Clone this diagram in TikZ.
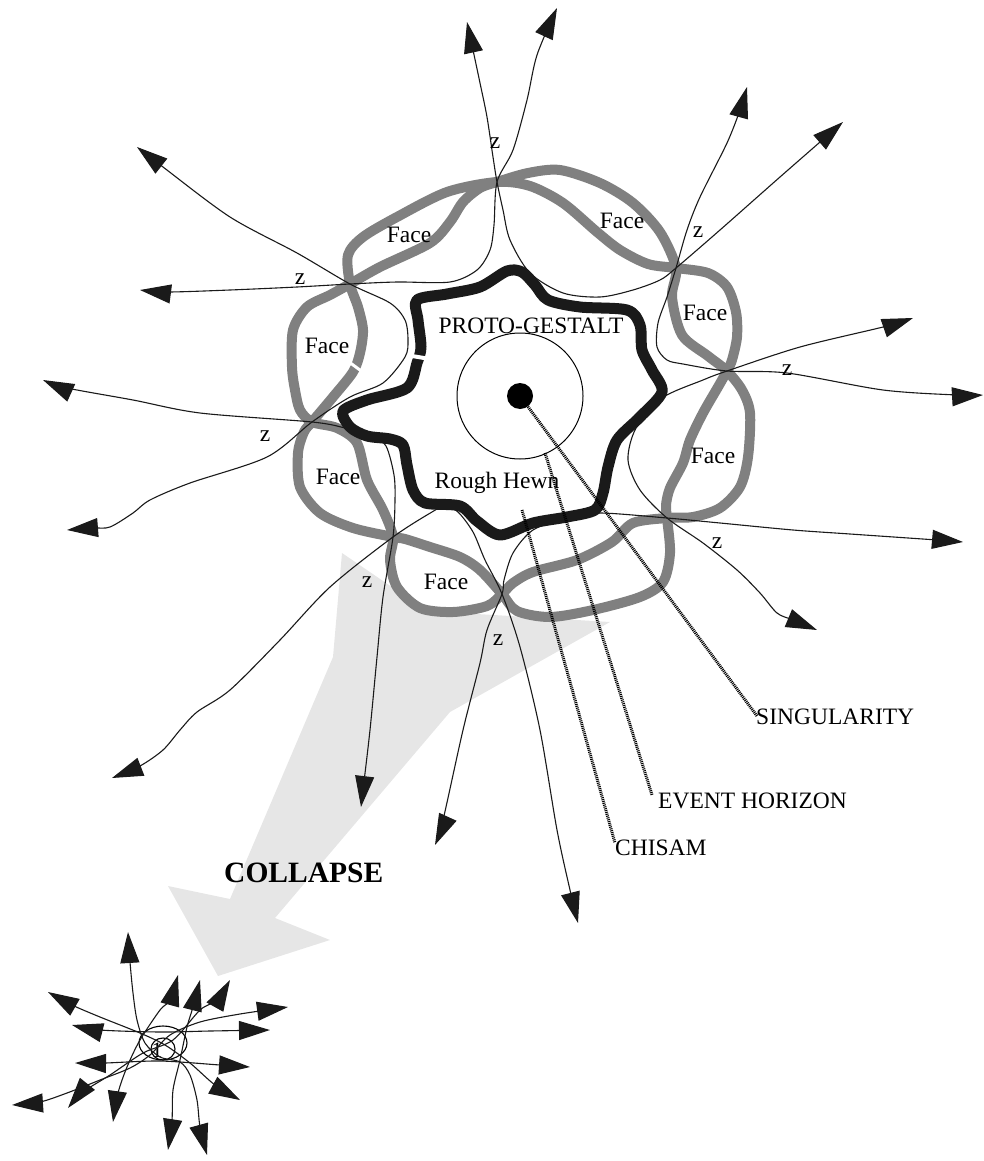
\documentclass[tikz,border=0pt]{standalone}
\usepackage{fontspec}
\setmainfont{Liberation Serif}
\usetikzlibrary{arrows.meta}
\definecolor{facegray}{HTML}{808080}
\definecolor{hewnblack}{HTML}{1A1A1A}
\definecolor{collapsegray}{HTML}{E6E6E6}

\begin{document}
\begin{tikzpicture}[
    x=1pt, y=-1pt,
    >={Triangle[length=31pt,width=19pt]},
    lbl/.style={font=\fontsize{23.5}{26}\selectfont, inner sep=0pt, anchor=base},
    facestrand/.style={draw=facegray, line width=10pt, line join=round},
    roughring/.style={draw=hewnblack, line width=11pt, line join=round},
    zline/.style={draw=hewnblack, line width=1.1pt, <->},
    pointer/.style={draw=black, line width=3pt, dash pattern=on 1pt off 0.9pt},
]
\path[use as bounding box] (0,0) rectangle (983,1161);

% collapse arrow
\fill[collapsegray] (342,553) -- (427,611) -- (610,622) -- (450,712) -- (275,918) -- (330,940)
    -- (218,976) -- (168,886) -- (230,899) -- (333,657) -- cycle;

% the two strands of faces
\draw[facestrand] plot[smooth cycle] coordinates {(350,284) (348,255) (363,237) (397,217) (447,192)
    (497,182) (530,186) (563,203) (597,232) (620,250) (648,264) (676,268) (708,273) (727,287)
    (736,312) (737,337) (732,360) (727,371) (718,387) (703,413) (690,440) (683,463) (670,488)
    (666,505) (667,518) (670,553) (663,582) (640,597) (593,610) (550,617) (517,611) (502,594)
    (480,570) (460,557) (430,547) (405,539) (393,537) (353,528) (320,513) (300,487) (298,453)
    (304,432) (312,422) (333,397) (353,372) (360,353) (363,330) (358,307)};
\draw[facestrand] plot[smooth cycle] coordinates {(350,284) (380,267) (430,243) (450,222) (463,202)
    (480,188) (497,182) (528,173) (560,170) (600,183) (633,203) (660,232) (676,268) (672,297)
    (682,335) (708,356) (727,371) (742,390) (750,413) (748,457) (740,487) (720,508) (693,517)
    (667,518) (633,523) (612,542) (577,560) (533,572) (513,583) (502,594) (487,606) (453,612)
    (420,608) (397,587) (390,560) (393,537) (383,510) (367,480) (357,443) (337,428) (312,422)
    (300,410) (295,390) (292,367) (293,330) (307,307) (330,295)};
\draw[white, line width=3pt] (345,359) -- (364,373);

% rough hewn ring
\draw[roughring] plot[smooth cycle] coordinates {(417,300) (447,294) (480,287) (507,271) (522,272)
    (535,285) (548,300) (580,307) (627,310) (640,325) (642,350) (652,370) (662,392) (640,417)
    (617,440) (608,467) (603,493) (595,510) (567,517) (533,523) (500,535) (477,521) (460,506)
    (425,503) (413,490) (407,465) (403,445) (390,439) (367,436) (350,427) (343,411) (367,400)
    (407,388) (417,363) (421,347) (418,320)};
\draw[white, line width=4pt] (406,355) -- (430,359);

% event horizon and singularity
\node[draw, circle, line width=1pt, minimum size=126pt, inner sep=0pt] (horizon) at (520,396) {};
\node[fill=black, circle, minimum size=26pt, inner sep=0pt] (singular) at (520,396) {};

% z lines
\draw[zline] plot[smooth] coordinates {(137,147) (163,167) (230,217) (297,253) (350,284) (390,303)
    (405,320) (408,340) (405,357) (383,383) (350,397) (312,422) (267,457) (190,483) (150,500)
    (133,513) (110,527) (93,528) (67,530)};
\draw[zline] plot[smooth] coordinates {(140,290) (168,292) (230,290) (297,287) (350,284) (397,282)
    (450,282) (477,270) (490,250) (494,225) (497,182) (513,150) (527,100) (537,55) (557,8)};
\draw[zline] plot[smooth] coordinates {(467,22) (473,50) (480,83) (487,117) (493,157) (497,182)
    (503,210) (510,240) (530,273) (563,293) (600,297) (633,290) (660,280) (676,268) (720,230)
    (780,177) (843,122)};
\draw[zline] plot[smooth] coordinates {(747,87) (740,110) (727,143) (700,197) (687,230) (676,268)
    (667,297) (658,323) (657,347) (667,360) (683,364) (727,371) (787,373) (883,390) (957,395)
    (983,395)};
\draw[zline] plot[smooth] coordinates {(913,318) (883,327) (800,347) (727,371) (703,380) (662,398)
    (636,428) (628,460) (640,490) (667,518) (703,543) (737,570) (760,593) (777,613) (793,620)
    (817,630)};
\draw[zline] plot[smooth] coordinates {(963,542) (937,540) (850,534) (793,530) (720,523) (667,518)
    (600,513) (567,518) (533,530) (513,553) (504,580) (502,594) (487,630) (480,663) (463,730)
    (443,820) (435,845)};
\draw[zline] plot[smooth] coordinates {(578,923) (570,890) (557,830) (540,730) (520,647) (502,594)
    (485,560) (473,532) (458,512) (445,506) (432,512) (393,537) (330,587) (280,640) (230,690)
    (197,712) (180,730) (163,750) (140,766) (112,778)};
\draw[zline] plot[smooth] coordinates {(43,380) (67,388) (133,400) (200,413) (312,422) (345,428)
    (372,436) (386,446) (394,475) (395,500) (393,537) (383,597) (377,657) (370,730) (363,790)
    (361,807)};

% pointers
\draw[pointer] (singular.center) -- (757,716);
\draw[pointer] (545,453) -- (652,795);
\draw[pointer] (522,510) -- (615,843);

% labels
\node[lbl] (proto) at (531,333) {PROTO-GESTALT};
\node[lbl] (hewn) at (497,488) {Rough Hewn};
\node[lbl] (face1) at (409,242) {Face};
\node[lbl] (face2) at (622,228) {Face};
\node[lbl] (face3) at (705,320) {Face};
\node[lbl] (face4) at (713,463) {Face};
\node[lbl] (face6) at (446,589) {Face};
\node[lbl] (face7) at (338,484) {Face};
\node[lbl] (face8) at (327,353) {Face};
\node[lbl] (z1) at (495,149) {z};
\node[lbl] (z2) at (698,237) {z};
\node[lbl] (z3) at (787,375) {z};
\node[lbl] (z4) at (717,548) {z};
\node[lbl] (z5) at (498,645) {z};
\node[lbl] (z6) at (367,587) {z};
\node[lbl] (z7) at (265,441) {z};
\node[lbl] (z8) at (300,284) {z};
\node[lbl, anchor=base west] (singlbl) at (756,724) {SINGULARITY};
\node[lbl, anchor=base west] (horlbl) at (658,808) {EVENT HORIZON};
\node[lbl, anchor=base west] (chislbl) at (615,855) {CHISAM};
\node[lbl, anchor=base west, font=\fontsize{29.5}{32}\selectfont\bfseries] (collapse) at (224,882) {COLLAPSE};

% collapsed star
\draw[line width=1.1pt] (163,1043) ellipse [x radius=24, y radius=17];
\draw[line width=1.1pt] (163,1049) ellipse [x radius=12, y radius=11];
\node[lbl, font=\fontsize{22}{24}\selectfont] (one) at (157,1057) {1};
\draw[zline] plot[smooth] coordinates {(48,992) (72,1005) (100,1017) (140,1033) (165,1045) (190,1063)
    (215,1085) (240,1100)};
\draw[zline] plot[smooth] coordinates {(72,1025) (100,1030) (160,1032) (210,1031) (270,1030)};
\draw[zline] plot[smooth] coordinates {(75,1063) (105,1063) (160,1061) (220,1065) (250,1067)};
\draw[zline] plot[smooth] coordinates {(12,1105) (40,1102) (67,1093) (100,1080) (130,1068) (150,1055)
    (170,1035) (200,1022) (240,1014) (288,1007)};
\draw[zline] plot[smooth] coordinates {(68,1108) (83,1092) (110,1075) (143,1053) (173,1040) (200,1010)
    (217,1000) (230,980)};
\draw[zline] plot[smooth] coordinates {(113,1122) (118,1093) (127,1067) (140,1040) (160,1010)
    (170,1000) (178,975)};
\draw[zline] plot[smooth] coordinates {(168,1150) (172,1120) (173,1090) (180,1060) (187,1027)
    (193,1007) (200,980)};
\draw[zline] plot[smooth] coordinates {(128,932) (130,962) (133,993) (137,1020) (145,1043) (160,1057)
    (180,1062) (190,1075) (197,1100) (200,1127) (207,1155)};
\end{tikzpicture}
\end{document}
